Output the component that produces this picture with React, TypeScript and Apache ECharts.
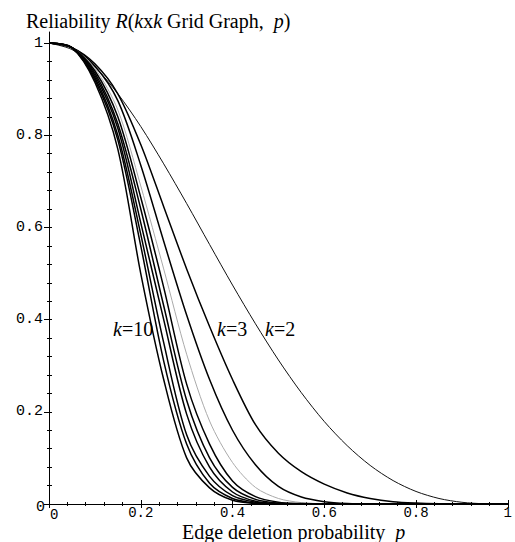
import React, { useEffect, useRef } from "react";
import * as echarts from "echarts";

// Edge deletion probability grid
const pGrid = [0, 0.05, 0.1, 0.15, 0.2, 0.25, 0.3, 0.35, 0.4, 0.45, 0.5, 0.55, 0.6, 0.65, 0.7, 0.75, 0.8, 0.85, 0.9, 0.95, 1];

// Reliability values, one list per curve
const rK2 = [1, 0.986, 0.948, 0.89, 0.819, 0.738, 0.652, 0.563, 0.475, 0.391, 0.3125, 0.2415, 0.179, 0.1265, 0.0837, 0.0508, 0.0272, 0.012, 0.0037, 0.0005, 0];
const rK3 = [1, 0.99, 0.955, 0.89, 0.78, 0.645, 0.51, 0.385, 0.27, 0.172, 0.11, 0.07, 0.043, 0.024, 0.012, 0.005, 0.002, 0.0005, 0, 0, 0];
const rK4 = [1, 0.99, 0.95, 0.875, 0.735, 0.57, 0.41, 0.27, 0.16, 0.085, 0.038, 0.015, 0.005, 0.001, 0, 0, 0, 0, 0, 0, 0];
const rK5 = [1, 0.99, 0.945, 0.855, 0.69, 0.51, 0.325, 0.18, 0.09, 0.036, 0.012, 0.003, 0.0005, 0, 0, 0, 0, 0, 0, 0, 0];
const rK6 = [1, 0.99, 0.94, 0.84, 0.665, 0.47, 0.26, 0.13, 0.05, 0.016, 0.004, 0.001, 0, 0, 0, 0, 0, 0, 0, 0, 0];
const rK7 = [1, 0.99, 0.935, 0.825, 0.64, 0.43, 0.225, 0.1, 0.036, 0.01, 0.002, 0, 0, 0, 0, 0, 0, 0, 0, 0, 0];
const rK8 = [1, 0.99, 0.93, 0.815, 0.61, 0.4, 0.195, 0.08, 0.026, 0.006, 0.001, 0, 0, 0, 0, 0, 0, 0, 0, 0, 0];
const rK9 = [1, 0.99, 0.925, 0.8, 0.585, 0.35, 0.15, 0.06, 0.018, 0.004, 0.0005, 0, 0, 0, 0, 0, 0, 0, 0, 0, 0];
const rK10 = [1, 0.99, 0.92, 0.79, 0.56, 0.31, 0.13, 0.045, 0.012, 0.002, 0, 0, 0, 0, 0, 0, 0, 0, 0, 0, 0];
const rK11 = [1, 0.99, 0.915, 0.77, 0.5, 0.27, 0.1, 0.035, 0.008, 0.001, 0, 0, 0, 0, 0, 0, 0, 0, 0, 0, 0];

const curves = [
  { name: "k=2", values: rK2, color: "#111", width: 1 },
  { name: "k=3", values: rK3, color: "#000", width: 1.5 },
  { name: "k=4", values: rK4, color: "#000", width: 1.5 },
  { name: "k=5", values: rK5, color: "#aaa", width: 1 },
  { name: "k=6", values: rK6, color: "#000", width: 1.5 },
  { name: "k=7", values: rK7, color: "#000", width: 1.5 },
  { name: "k=8", values: rK8, color: "#000", width: 1.5 },
  { name: "k=9", values: rK9, color: "#000", width: 1.5 },
  { name: "k=10", values: rK10, color: "#000", width: 1.5 },
  { name: "k=11", values: rK11, color: "#000", width: 1.5 },
];

const majorTicks = [0, 0.2, 0.4, 0.6, 0.8, 1];
const minorTicks = [0.04, 0.08, 0.12, 0.16, 0.24, 0.28, 0.32, 0.36, 0.44, 0.48, 0.52, 0.56, 0.64, 0.68, 0.72, 0.76, 0.84, 0.88, 0.92, 0.96];
const xTickLabels = [0.2, 0.4, 0.6, 0.8, 1];
const yTickLabels = [0.2, 0.4, 0.6, 0.8, 1];

const MONO = "'Liberation Mono', 'DejaVu Sans Mono', monospace";
const SERIF = "'Liberation Serif', 'DejaVu Serif', serif";

function fmt(v: number) {
  return String(Math.round(v * 10) / 10);
}

export default function App() {
  const ref = useRef<HTMLDivElement>(null);
  useEffect(() => {
    if (!ref.current) return;
    const chart = echarts.init(ref.current, null, { renderer: "svg" });

    const xMax = 1;
    const yMax = 1.024;
    const hidden = { show: false };
    const mkX = (ticks: number[], inside: boolean, len: number, main: boolean) => ({
      type: "value",
      min: 0,
      max: xMax,
      position: "bottom",
      splitLine: hidden,
      axisLine: main ? { show: true, onZero: false, lineStyle: { color: "#000", width: 1 } } : { show: false, onZero: false },
      axisTick: { show: true, inside, length: len, customValues: ticks, lineStyle: { color: "#000", width: 1 } },
      axisLabel: main
        ? {
            show: true,
            customValues: xTickLabels,
            formatter: (v: number) => fmt(v),
            fontFamily: MONO,
            fontSize: 14,
            lineHeight: 10,
            color: "#000",
            margin: 4,
          }
        : { show: false },
    });
    const mkY = (ticks: number[], inside: boolean, len: number, main: boolean) => ({
      type: "value",
      min: 0,
      max: yMax,
      position: "left",
      splitLine: hidden,
      axisLine: main ? { show: true, onZero: false, lineStyle: { color: "#000", width: 1 } } : { show: false, onZero: false },
      axisTick: { show: true, inside, length: len, customValues: ticks, lineStyle: { color: "#000", width: 1 } },
      axisLabel: main
        ? {
            show: true,
            customValues: yTickLabels,
            formatter: (v: number) => fmt(v),
            fontFamily: MONO,
            fontSize: 15,
            color: "#000",
            margin: 6,
          }
        : { show: false },
    });

    const rich = {
      a: { fontFamily: SERIF, fontSize: 20, fill: "#000", lineHeight: 16 },
      i: { fontFamily: SERIF, fontSize: 20, fontStyle: "italic", fill: "#000", lineHeight: 16 },
    };
    const richTight = {
      a: { fontFamily: SERIF, fontSize: 20, fill: "#000", lineHeight: 12 },
      i: { fontFamily: SERIF, fontSize: 20, fontStyle: "italic", fill: "#000", lineHeight: 12 },
    };

    chart.setOption({
      animation: false,
      backgroundColor: "#fff",
      grid: { left: 49, right: 5, top: 32, bottom: 38, containLabel: false },
      xAxis: [
        mkX(majorTicks, false, 4, true),
        mkX(majorTicks, true, 4, false),
        mkX(minorTicks, false, 2, false),
        mkX(minorTicks, true, 2, false),
      ],
      yAxis: [
        mkY(majorTicks, false, 5, true),
        mkY(majorTicks, true, 3, false),
        mkY(minorTicks, false, 2, false),
        mkY(minorTicks, true, 3, false),
      ],
      series: curves.map((c) => ({
        type: "line",
        name: c.name,
        xAxisIndex: 0,
        yAxisIndex: 0,
        data: pGrid.map((p, i) => [p, c.values[i]]),
        showSymbol: false,
        smooth: 0.3,
        lineStyle: { color: c.color, width: c.width },
        silent: true,
      })),
      graphic: [
        {
          type: "text",
          left: 26,
          top: 11,
          style: {
            text: "{a|Reliability }{i|R}{a|(}{i|k}{a|x}{i|k}{a| Grid Graph,  }{i|p}{a|)}",
            rich,
          },
        },
        {
          type: "text",
          left: 182,
          top: 522,
          style: {
            text: "{a|Edge deletion probability  }{i|p}",
            rich: richTight,
          },
        },
        {
          type: "text",
          left: 113,
          top: 319,
          style: { text: "{i|k}{a|=10}", rich },
        },
        {
          type: "text",
          left: 217,
          top: 319,
          style: { text: "{i|k}{a|=3}", rich },
        },
        {
          type: "text",
          left: 265,
          top: 319,
          style: { text: "{i|k}{a|=2}", rich },
        },
        {
          type: "text",
          left: 36,
          top: 500,
          style: { text: "0", fontFamily: MONO, fontSize: 15, fill: "#000" },
        },
        {
          type: "text",
          left: 50,
          top: 508,
          style: { text: "0", fontFamily: MONO, fontSize: 14, fill: "#000", lineHeight: 10 },
        },
      ],
    });
    return () => chart.dispose();
  }, []);
  return <div ref={ref} style={{ width: 515, height: 542, position: "absolute", left: 0, top: 0 }} />;
}
